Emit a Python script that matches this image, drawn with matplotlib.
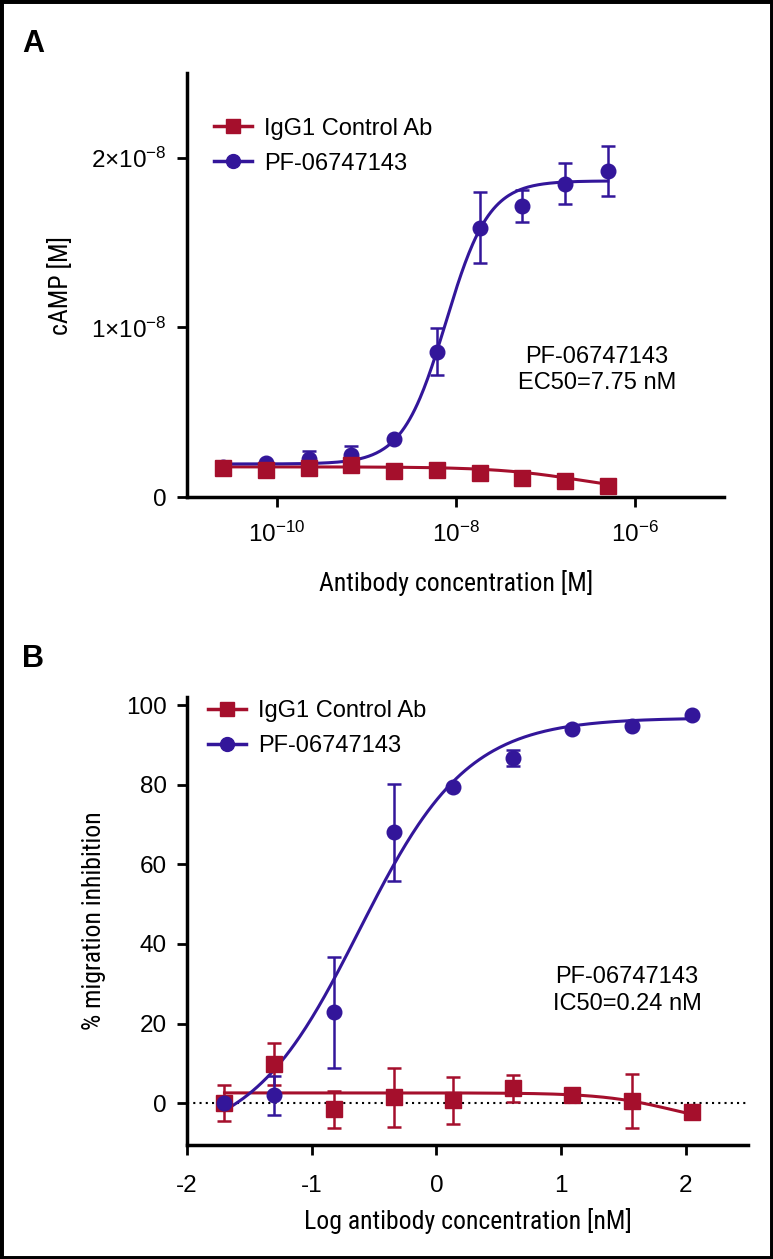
import numpy as np
import matplotlib.pyplot as plt
from matplotlib.patches import Rectangle

plt.rcParams['font.family'] = ['Liberation Sans', 'DejaVu Sans']
plt.rcParams['mathtext.fontset'] = 'custom'
plt.rcParams['mathtext.rm'] = 'Liberation Sans'
plt.rcParams['mathtext.it'] = 'Liberation Sans:italic'
plt.rcParams['axes.unicode_minus'] = False

RED = '#a50f2c'
BLUE = '#33169a'

# Panel A: cAMP vs antibody concentration (M), 3-fold dilutions from 500 nM
conc_a = 5e-7 / 3.0 ** np.arange(9, -1, -1)
pf_a = [0.18e-8, 0.20e-8, 0.226e-8, 0.249e-8, 0.343e-8, 0.858e-8, 1.589e-8, 1.716e-8, 1.847e-8, 1.922e-8]
pf_a_err = [0.0, 0.0, 0.047e-8, 0.05e-8, 0.0, 0.141e-8, 0.208e-8, 0.097e-8, 0.12e-8, 0.148e-8]
igg_a = [0.172e-8, 0.16e-8, 0.172e-8, 0.188e-8, 0.155e-8, 0.16e-8, 0.141e-8, 0.113e-8, 0.094e-8, 0.066e-8]
# 4PL fit parameters (bottom, top, logEC50, hill)
pf_a_fit = (0.195e-8, 1.864e-8, np.log10(7.75e-9), 1.8)
igg_a_fit = (0.02e-8, 0.178e-8, -6.6, 0.9)

# Panel B: % migration inhibition vs log concentration (nM)
logc_b = [-1.70, -1.30, -0.82, -0.34, 0.135, 0.615, 1.09, 1.57, 2.05]
pf_b = [0.0, 2.0, 22.8, 68.1, 79.4, 86.7, 94.1, 94.8, 97.6]
pf_b_err = [0.0, 4.9, 13.9, 12.2, 0.0, 2.0, 0.0, 0.0, 0.0]
igg_b = [0.0, 9.9, -1.5, 1.5, 0.7, 3.8, 2.0, 0.5, -2.3]
igg_b_err = [4.5, 5.3, 4.7, 7.4, 5.8, 3.4, 0.0, 6.8, 0.0]
pf_b_fit = (-10.0, 96.8, np.log10(0.24), 1.0)
igg_b_fit = (-6.0, 2.6, 1.9, 1.5)


def four_pl(logx, p):
    bottom, top, logmid, hill = p
    return bottom + (top - bottom) / (1 + 10 ** (hill * (logmid - logx)))


def four_pl_down(logx, p):
    bottom, top, logmid, hill = p
    return bottom + (top - bottom) / (1 + 10 ** (hill * (logx - logmid)))


fig = plt.figure(figsize=(7.73, 12.59), dpi=100)
fig.add_artist(Rectangle((0, 0), 1, 1, transform=fig.transFigure, fill=False,
                         edgecolor='black', linewidth=5))

label_font = dict(family=['Roboto Condensed', 'Liberation Sans Narrow', 'Liberation Sans'],
                  fontstretch='condensed', size=18.5)


def style_axes(ax):
    for s in ['top', 'right']:
        ax.spines[s].set_visible(False)
    for s in ['left', 'bottom']:
        ax.spines[s].set_linewidth(2.5)
    ax.tick_params(width=2.0, length=7.5, labelsize=17.5, direction='out')
    ax.tick_params(axis='y', pad=7)
    ax.tick_params(which='minor', length=0)


# ---- Panel A
ax1 = fig.add_axes([0.242, 0.6052, 0.695, 0.3368])
style_axes(ax1)
ax1.tick_params(axis='x', pad=10)
ax1.set_xscale('log')
ax1.set_xlim(1e-11, 1e-5)
ax1.set_ylim(0, 2.5e-8)

lx = np.linspace(np.log10(conc_a[0]), np.log10(conc_a[-1]), 300)
ax1.plot(10 ** lx, four_pl_down(lx, igg_a_fit), color=RED, lw=2.2, zorder=2)
ax1.plot(10 ** lx, four_pl(lx, pf_a_fit), color=BLUE, lw=2.2, zorder=2)
ax1.errorbar(conc_a, pf_a, yerr=pf_a_err, fmt='o', color=BLUE, ms=10.5,
             elinewidth=1.8, capsize=5, capthick=1.8, zorder=3)
ax1.errorbar(conc_a, igg_a, fmt='s', color=RED, ms=11, zorder=4)
ax1.plot([], [], '-s', color=RED, ms=10, lw=2.5, label='IgG1 Control Ab')
ax1.plot([], [], '-o', color=BLUE, ms=10, lw=2.5, label='PF-06747143')
ax1.legend(loc='upper left', bbox_to_anchor=(0.011, 0.945), frameon=False, fontsize=17,
           handlelength=1.6, handletextpad=0.5, labelspacing=0.55)

ax1.set_xticks([1e-10, 1e-8, 1e-6])
ax1.set_xticklabels([r'$10^{-10}$', r'$10^{-8}$', r'$10^{-6}$'])
ax1.set_yticks([0, 1e-8, 2e-8])
ax1.set_yticklabels(['0', r'$1{\times}10^{-8}$', r'$2{\times}10^{-8}$'])
ax1.set_xlabel('Antibody concentration [M]', **label_font)
ax1.set_ylabel('cAMP [M]', **label_font)
ax1.xaxis.set_label_coords(0.5, -0.172)
ax1.yaxis.set_label_coords(-0.212, 0.5)
ax1.text(0.763, 0.30, 'PF-06747143\nEC50=7.75 nM', transform=ax1.transAxes,
         ha='center', va='center', fontsize=17, linespacing=1.25)
fig.text(0.029, 0.965, 'A', fontsize=22, fontweight='bold', va='center')

# ---- Panel B
ax2 = fig.add_axes([0.242, 0.0905, 0.726, 0.3558])
style_axes(ax2)
ax2.tick_params(axis='x', pad=14)
ax2.set_xlim(-2, 2.5)
ax2.set_ylim(-10.5, 102)
ax2.axhline(0, color='black', lw=1.5, ls=(0, (1, 2)), zorder=1)

lx = np.linspace(logc_b[0], logc_b[-1], 300)
ax2.plot(lx, four_pl_down(lx, igg_b_fit), color=RED, lw=2.2, zorder=2)
ax2.plot(lx, four_pl(lx, pf_b_fit), color=BLUE, lw=2.2, zorder=2)
ax2.errorbar(logc_b, igg_b, yerr=igg_b_err, fmt='s', color=RED, ms=11,
             elinewidth=1.8, capsize=5, capthick=1.8, zorder=3)
ax2.errorbar(logc_b, pf_b, yerr=pf_b_err, fmt='o', color=BLUE, ms=10.5,
             elinewidth=1.8, capsize=5, capthick=1.8, zorder=4)
ax2.plot([], [], '-s', color=RED, ms=10, lw=2.5, label='IgG1 Control Ab')
ax2.plot([], [], '-o', color=BLUE, ms=10, lw=2.5, label='PF-06747143')
ax2.legend(loc='upper left', bbox_to_anchor=(0.0, 1.04), frameon=False, fontsize=17,
           handlelength=1.6, handletextpad=0.5, labelspacing=0.55)

ax2.set_xticks([-2, -1, 0, 1, 2])
ax2.set_yticks([0, 20, 40, 60, 80, 100])
ax2.set_xlabel('Log antibody concentration [nM]', **label_font)
ax2.set_ylabel('% migration inhibition', **label_font)
ax2.xaxis.set_label_coords(0.5, -0.14)
ax2.yaxis.set_label_coords(-0.144, 0.5)
ax2.text(0.784, 0.345, 'PF-06747143\nIC50=0.24 nM', transform=ax2.transAxes,
         ha='center', va='center', fontsize=17, linespacing=1.25)
fig.text(0.029, 0.4766, 'B', fontsize=22, fontweight='bold', va='center')

fig.savefig('out.png', dpi=100)
